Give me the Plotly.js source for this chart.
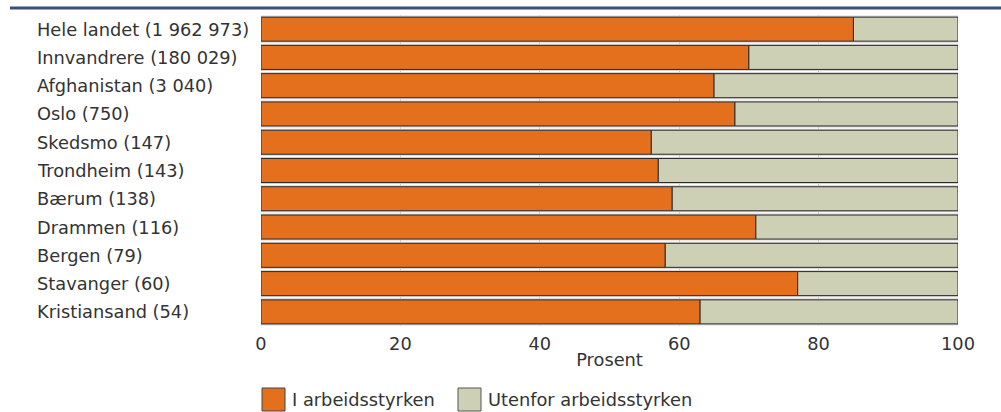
<!DOCTYPE html>
<html>
<head>
<meta charset="utf-8">
<script src="https://cdn.plot.ly/plotly-3.0.1.min.js"></script>
<style>html,body{margin:0;padding:0;background:#fff;}#chart{width:1001px;height:412px;}</style>
</head>
<body>
<div id="chart"></div>
<script>
const categories = ["Hele landet (1 962 973)", "Innvandrere (180 029)", "Afghanistan (3 040)", "Oslo (750)", "Skedsmo (147)", "Trondheim (143)", "Bærum (138)", "Drammen (116)", "Bergen (79)", "Stavanger (60)", "Kristiansand (54)"];
const iArbeidsstyrken = [85, 70, 65, 68, 56, 57, 59, 71, 58, 77, 63];
const utenfor = iArbeidsstyrken.map(v => 100 - v);
const seriesNames = ["I arbeidsstyrken", "Utenfor arbeidsstyrken"];
const xTicks = [0, 20, 40, 60, 80, 100];

const ORANGE = "#e4701e";
const GREEN = "#cdd0b5";
const FONT = "DejaVu Sans, sans-serif";
const FS = 17.8;
const TXT = "#333333";

const traces = [
  {
    type: "bar", orientation: "h", y: categories,
    x: categories.map(() => 100.5), base: categories.map(() => -0.2),
    width: 0.96, marker: {color: "#d6d6d6", line: {width: 0}},
    hoverinfo: "skip", showlegend: false
  },
  {
    type: "bar", orientation: "h", name: seriesNames[0], y: categories,
    x: iArbeidsstyrken, base: categories.map(() => 0), width: 0.85,
    marker: {color: ORANGE, line: {color: "#2a2a2a", width: 1}}, showlegend: false
  },
  {
    type: "bar", orientation: "h", name: seriesNames[1], y: categories,
    x: utenfor, base: iArbeidsstyrken, width: 0.85,
    marker: {color: GREEN, line: {color: "#2a2a2a", width: 1}}, showlegend: false
  }
];

const annotations = categories.map(c => ({
  xref: "paper", yref: "y", x: (35 - 261) / 697, y: c, xanchor: "left", yanchor: "middle",
  text: c, showarrow: false, font: {family: FONT, size: FS, color: TXT}
}));

// legend (drawn manually for large swatches)
const px = v => (v - 261) / 697;
const py = v => (326 - v) / 311;
const shapes = [
  {type: "line", xref: "paper", yref: "paper", x0: px(10), x1: px(1001), y0: py(8), y1: py(8),
   line: {color: "#3b5179", width: 3}},
  {type: "rect", xref: "paper", yref: "paper", x0: px(262), x1: px(285), y0: py(388), y1: py(411),
   fillcolor: ORANGE, line: {color: "#444", width: 1}},
  {type: "rect", xref: "paper", yref: "paper", x0: px(458), x1: px(481), y0: py(388), y1: py(411),
   fillcolor: GREEN, line: {color: "#555", width: 1}}
];
annotations.push({xref: "paper", yref: "paper", x: px(290), y: py(399.5), xanchor: "left", yanchor: "middle",
  text: seriesNames[0], showarrow: false, font: {family: FONT, size: FS, color: TXT}});
annotations.push({xref: "paper", yref: "paper", x: px(486), y: py(399.5), xanchor: "left", yanchor: "middle",
  text: seriesNames[1], showarrow: false, font: {family: FONT, size: FS, color: TXT}});

const layout = {
  width: 1001, height: 412,
  margin: {l: 261, r: 43, t: 15, b: 86},
  barmode: "overlay",
  paper_bgcolor: "#fff", plot_bgcolor: "#fff",
  showlegend: false,
  xaxis: {
    range: [0, 100], tickvals: xTicks, ticktext: xTicks.map(String),
    showgrid: true, gridcolor: "#c8c8c8", gridwidth: 1, zeroline: false,
    showline: false, ticks: "", ticklen: 0, ticklabelstandoff: 5,
    tickfont: {family: FONT, size: FS, color: TXT},
    title: {text: "Prosent", font: {family: FONT, size: FS, color: TXT}, standoff: 0}
  },
  yaxis: {
    type: "category", categoryorder: "array", categoryarray: categories,
    autorange: "reversed", showticklabels: false, showgrid: false, zeroline: false, ticks: ""
  },
  shapes: shapes,
  annotations: annotations,
  font: {family: FONT}
};

Plotly.newPlot("chart", traces, layout, {displayModeBar: false, staticPlot: true});
</script>
</body>
</html>
